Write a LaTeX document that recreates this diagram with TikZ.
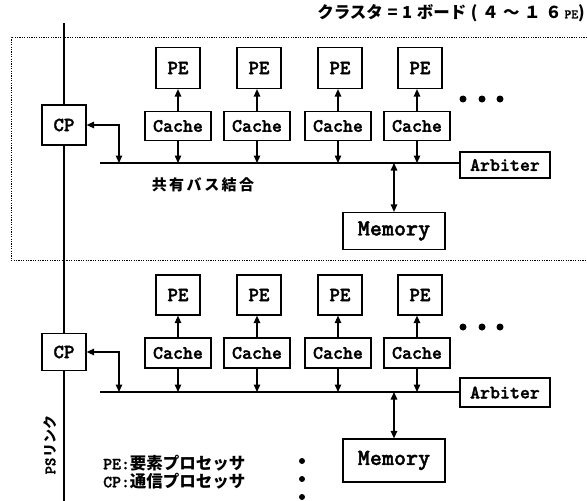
\documentclass[tikz,border=0pt]{standalone}
\usepackage{fontspec}
\setmainfont{Liberation Serif}
\newfontfamily\jp{Noto Sans CJK JP}
\newfontfamily\cour{lmmonolt10-bold}[Extension=.otf, FakeBold=1.6]
\usetikzlibrary{arrows.meta}
\begin{document}
\begin{tikzpicture}[x=1pt,y=-1pt,
  box/.style={draw, line width=1.2pt, inner sep=0pt, font=\cour\fontsize{19}{19}\selectfont},
  pebox/.style={box, minimum width=44pt, minimum height=41pt, font=\cour\fontsize{20}{20}\selectfont},
  cachebox/.style={box, minimum width=66pt, minimum height=29pt},
  cpbox/.style={box, minimum width=44pt, font=\cour\fontsize{20}{20}\selectfont},
  arbbox/.style={box, minimum width=90pt},
  membox/.style={box, minimum width=102pt, font=\cour\fontsize{23}{23}\selectfont},
  conn/.style={line width=1.3pt},
  arr/.style={conn, -{Triangle[length=7.5pt,width=6.5pt]}},
  dblarr/.style={conn, {Triangle[length=7.5pt,width=6.5pt]}-{Triangle[length=7.5pt,width=6.5pt]}},
  bus/.style={line width=1.3pt},
  cluster/.style={line width=1pt, dash pattern=on 1.2pt off 1.2pt},
  dot/.style={circle, fill, inner sep=0pt, minimum size=7pt},
  jptext/.style={font=\jp\bfseries\fontsize{15}{17}\selectfont, inner sep=0pt}
]
\useasboundingbox (0,0) rectangle (587,501);

% cluster boundary
\draw[cluster] (587,37) -- (11,37) -- (11,260) -- (587,260);

% title
\node[jptext, anchor=east, font=\jp\bfseries\fontsize{16.5}{17}\selectfont] (title) at (585,13) {クラスタ\;=\;1\;ボード\;(\;４\;～\;１\;６\,{\cour\fontsize{13}{13}\selectfont PE})};

% ---------- top cluster ----------
\node[pebox] (p11) at (178,68) {PE};
\node[pebox] (p12) at (259,68) {PE};
\node[pebox] (p13) at (340,68) {PE};
\node[pebox] (p14) at (420,68) {PE};
\node[cachebox] (c11) at (178,126) {Cache};
\node[cachebox] (c12) at (257,126) {Cache};
\node[cachebox] (c13) at (338,126) {Cache};
\node[cachebox] (c14) at (417,126) {Cache};
\node[cpbox, minimum height=40pt] (cp1) at (64,125) {CP};
\node[arbbox, minimum height=26pt] (arb1) at (505,165) {Arbiter};
\node[membox, minimum height=37pt] (mem1) at (394,231) {Memory};
\coordinate (bl1) at (100,163);
\coordinate (bc1) at (119,163);
\coordinate (bm1) at (394,163);
\draw[bus] (bl1) -- (bl1 -| arb1.west);
\foreach \i in {1,2,3,4}{
  \draw[arr] (c1\i.north) -- (c1\i.north |- p1\i.south);
  \draw[arr] (c1\i.south) -- (c1\i.south |- bl1);
}
\draw[dblarr] (cp1.east) -| (bc1);
\draw[dblarr] (bm1) -- (mem1.north);
\node[jptext] (buslabel) at (203,185) {共\,有\,バ\,ス\,結\,合};
\node[dot] (d11) at (463,99) {};
\node[dot] (d12) at (482,99) {};
\node[dot] (d13) at (500,99) {};

% ---------- bottom cluster ----------
\node[pebox, minimum height=40pt] (p21) at (178,295) {PE};
\node[pebox, minimum height=40pt] (p22) at (259,295) {PE};
\node[pebox, minimum height=40pt] (p23) at (340,295) {PE};
\node[pebox, minimum height=40pt] (p24) at (420,295) {PE};
\node[cachebox, minimum height=30pt] (c21) at (178,353) {Cache};
\node[cachebox, minimum height=30pt] (c22) at (257,353) {Cache};
\node[cachebox, minimum height=30pt] (c23) at (338,353) {Cache};
\node[cachebox, minimum height=30pt] (c24) at (417,353) {Cache};
\node[cpbox, minimum height=37pt] (cp2) at (64,352) {CP};
\node[arbbox, minimum height=29pt] (arb2) at (505,392.5) {Arbiter};
\node[membox, minimum height=43pt] (mem2) at (394,460.5) {Memory};
\coordinate (bl2) at (100,392);
\coordinate (bc2) at (119,392);
\coordinate (bm2) at (394,392);
\draw[bus] (bl2) -- (bl2 -| arb2.west);
\foreach \i in {1,2,3,4}{
  \draw[arr] (c2\i.north) -- (c2\i.north |- p2\i.south);
  \draw[arr] (c2\i.south) -- (c2\i.south |- bl2);
}
\draw[dblarr] (cp2.east) -| (bc2);
\draw[dblarr] (bm2) -- (mem2.north);
\node[dot] (d21) at (463,327) {};
\node[dot] (d22) at (482,327) {};
\node[dot] (d23) at (500,327) {};

% PS link
\coordinate (psTop) at (64,23);
\coordinate (psBot) at (64,501);
\draw[conn] (psTop) -- (cp1.north);
\draw[conn] (cp1.south) -- (cp2.north);
\draw[conn] (cp2.south) -- (psBot);
\node[jptext, rotate=90, font=\jp\bfseries\fontsize{14}{14}\selectfont] (pslabel) at (50,445) {{\cour\fontsize{16}{16}\selectfont PS}リンク};

% more clusters
\node[dot, minimum size=6pt] (v1) at (302,461) {};
\node[dot, minimum size=6pt] (v2) at (302,479) {};
\node[dot, minimum size=6pt] (v3) at (302,497) {};

% legend
\node[jptext, anchor=west, font=\jp\bfseries\fontsize{16.5}{17}\selectfont] (leg1) at (103,463) {{\cour\fontsize{17}{17}\selectfont PE:}要素プロセッサ};
\node[jptext, anchor=west, font=\jp\bfseries\fontsize{16.5}{17}\selectfont] (leg2) at (103,481) {{\cour\fontsize{17}{17}\selectfont CP:}通信プロセッサ};
\end{tikzpicture}
\end{document}
